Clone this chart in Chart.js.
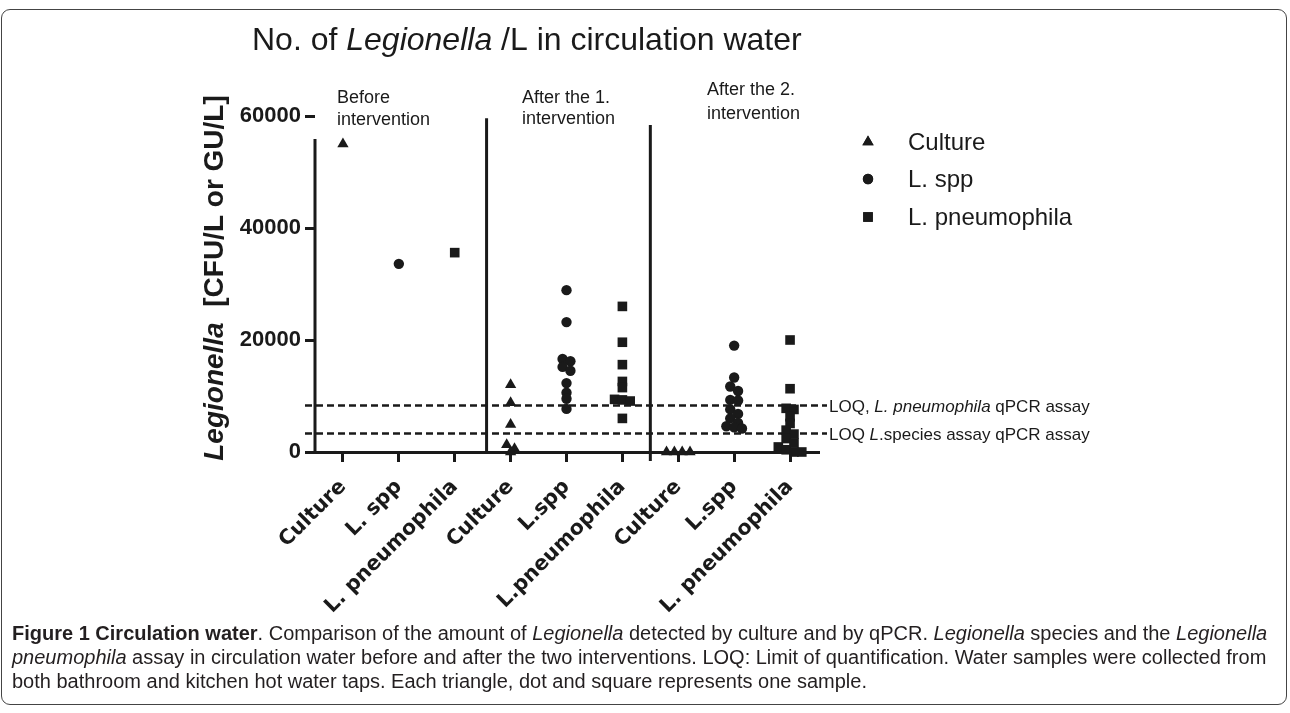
<!DOCTYPE html>
<html>
<head>
<meta charset="utf-8">
<script src="https://cdn.jsdelivr.net/npm/chart.js@4.4.1/dist/chart.umd.min.js"></script>
<style>
  html, body { margin: 0; padding: 0; background: #fff; }
  body { width: 1290px; height: 713px; position: relative; overflow: hidden; }
  #frame { position: absolute; left: 1px; top: 9px; width: 1284px; height: 694px; border: 1.5px solid #444; border-radius: 9px; }
  canvas { position: absolute; left: 0; top: 0; }
  .caption { position: absolute; left: 12px; top: 621px; font-family: "Liberation Sans", sans-serif; font-size: 20px; line-height: 24px; color: #231f20; white-space: nowrap; }
</style>
</head>
<body>
<div id="frame"></div>
<canvas id="chart" width="1290" height="713"></canvas>
<div class="caption">
  <div><b>Figure 1 Circulation water</b>. Comparison of the amount of <i>Legionella</i> detected by culture and by qPCR. <i>Legionella</i> species and the <i>Legionella</i></div>
  <div><i>pneumophila</i> assay in circulation water before and after the two interventions. LOQ: Limit of quantification. Water samples were collected from</div>
  <div>both bathroom and kitchen hot water taps. Each triangle, dot and square represents one sample.</div>
</div>
<script>
// x categories (one column per assay and period)
const categories = ["Culture", "L. spp", "L. pneumophila", "Culture", "L.spp", "L.pneumophila", "Culture", "L.spp", "L. pneumophila"];
const phaseLabels = [["Before", "intervention"], ["After the 1.", "intervention"], ["After the 2.", "intervention"]];
const seriesNames = ["Culture", "L. spp", "L. pneumophila"];
const yTicks = [0, 20000, 40000, 60000];

// values (CFU/L or GU/L)
const cultureBefore = [55000];
const lsppBefore = [33600];
const lpnBefore = [35600];
const cultureAfter1 = [12000, 8800, 4900, 1300, 600, 0];
const lsppAfter1 = [28900, 23200, 16600, 16200, 15200, 14500, 12300, 10600, 9500, 7700];
const lpnAfter1 = [26000, 19600, 15600, 12600, 11500, 9400, 9300, 9100, 6000];
const cultureAfter2 = [0, 0, 0, 0];
const lsppAfter2 = [19000, 13300, 11700, 10900, 9300, 9200, 7600, 6800, 6000, 5200, 4600, 4400, 4200];
const lpnAfter2 = [20000, 11300, 7800, 7600, 6300, 5100, 3900, 3200, 2400, 1600, 900, 400, 0, 0];

// limits of quantification
const loqValues = [8300, 3300];
const loqLabels = [
  [["LOQ, ", false], ["L. pneumophila", true], [" qPCR assay", false]],
  [["LOQ ", false], ["L", true], [".species assay qPCR assay", false]]
];

const INK = "#1a1a1a";
const ROW_GAP = 1000;   // values closer than this share a row
const STEP = 0.14;      // horizontal spread within a row (category units)

// simple dot-plot spreading, like Prism does for overlapping points
function swarm(values, cat) {
  const sorted = [...values].sort((a, b) => b - a);
  const rows = [];
  sorted.forEach(v => {
    const row = rows[rows.length - 1];
    if (row && row[0] - v < ROW_GAP) row.push(v);
    else rows.push([v]);
  });
  return rows.flatMap(row => row.map((v, i) => ({ x: cat + (i - (row.length - 1) / 2) * STEP, y: v })));
}

const cultureData = [...swarm(cultureBefore, 0), ...swarm(cultureAfter1, 3), ...swarm(cultureAfter2, 6)];
const lsppData = [...swarm(lsppBefore, 1), ...swarm(lsppAfter1, 4), ...swarm(lsppAfter2, 7)];
const lpnData = [...swarm(lpnBefore, 2), ...swarm(lpnAfter1, 5), ...swarm(lpnAfter2, 8)];

function drawRuns(ctx, runs, x, y, align) {
  let total = 0;
  runs.forEach(r => { ctx.font = r.font; r.w = ctx.measureText(r.text).width; total += r.w; });
  let cx = align === "center" ? x - total / 2 : x;
  ctx.textAlign = "left";
  runs.forEach(r => { ctx.font = r.font; ctx.fillText(r.text, cx, y); cx += r.w; });
}

const decor = {
  id: "decor",
  beforeDatasetsDraw(chart) {
    const { ctx, chartArea: a, scales: { x, y } } = chart;
    ctx.save();
    ctx.strokeStyle = INK;

    // LOQ lines
    ctx.lineWidth = 2.5;
    ctx.setLineDash([7, 4]);
    loqValues.forEach(v => {
      const py = y.getPixelForValue(v);
      ctx.beginPath();
      ctx.moveTo(a.left - 10, py);
      ctx.lineTo(a.right + 9, py);
      ctx.stroke();
    });
    ctx.setLineDash([]);

    // y axis (starts a bit under the top tick, like the original)
    ctx.lineWidth = 3;
    ctx.beginPath();
    ctx.moveTo(a.left, y.getPixelForValue(55900));
    ctx.lineTo(a.left, a.bottom + 1.5);
    ctx.stroke();

    // period separators
    [[2.57, 59600, 0], [5.5, 58400, 9]].forEach(([cx, top, below]) => {
      const px = x.getPixelForValue(cx);
      ctx.beginPath();
      ctx.moveTo(px, y.getPixelForValue(top));
      ctx.lineTo(px, a.bottom + below);
      ctx.stroke();
    });
    ctx.restore();
  },
  afterDraw(chart) {
    const { ctx, chartArea: a, scales: { x, y } } = chart;
    ctx.save();
    ctx.fillStyle = INK;
    ctx.textBaseline = "alphabetic";

    // title
    drawRuns(ctx, [
      { text: "No. of ", font: "32px 'Liberation Sans'" },
      { text: "Legionella", font: "italic 32px 'Liberation Sans'" },
      { text: " /L in circulation water", font: "32px 'Liberation Sans'" }
    ], 252, 50, "left");

    // period labels
    const phaseX = [337, 522, 707];
    const phaseY = [[103, 125], [103, 124], [95, 119]];
    ctx.font = "18px 'Liberation Sans'";
    phaseLabels.forEach((lines, i) => {
      lines.forEach((t, j) => ctx.fillText(t, phaseX[i], phaseY[i][j]));
    });

    // y axis title
    ctx.save();
    ctx.translate(223, 278);
    ctx.rotate(-Math.PI / 2);
    drawRuns(ctx, [
      { text: "Legionella", font: "italic bold 28px 'Liberation Sans'" },
      { text: "  [CFU/L or GU/L]", font: "bold 28px 'Liberation Sans'" }
    ], 0, 0, "center");
    ctx.restore();

    // LOQ labels
    ctx.textBaseline = "middle";
    loqLabels.forEach((parts, i) => {
      const py = y.getPixelForValue(loqValues[i]) + 2;
      drawRuns(ctx, parts.map(([t, it]) => ({ text: t, font: (it ? "italic " : "") + "17px 'Liberation Sans'" })), a.right + 11, py, "left");
    });

    // legend
    const legendY = [142, 179, 217];
    chart.data.datasets.forEach((ds, i) => {
      Chart.helpers.drawPoint(ctx, {
        pointStyle: ds.pointStyle, radius: ds.pointRadius, borderWidth: 0, rotation: 0
      }, 868, legendY[i]);
      ctx.fill();
      ctx.font = "24px 'Liberation Sans'";
      ctx.textAlign = "left";
      ctx.fillText(seriesNames[i], 908, legendY[i] + 1);
    });
    ctx.restore();
  }
};

const ds = (label, data, style, r) => ({
  label, data, type: "scatter", showLine: false, clip: false,
  pointStyle: style, pointRadius: r, pointHoverRadius: r,
  backgroundColor: INK, borderColor: INK, pointBorderWidth: 0
});

new Chart(document.getElementById("chart"), {
  type: "scatter",
  data: {
    datasets: [
      ds(seriesNames[0], cultureData, "triangle", 6.5),
      ds(seriesNames[1], lsppData, "circle", 5.2),
      ds(seriesNames[2], lpnData, "rect", 6.8)
    ]
  },
  options: {
    responsive: false,
    animation: false,
    devicePixelRatio: 1,
    layout: { padding: { left: 0, top: 116, right: 472, bottom: 0 } },
    plugins: { legend: { display: false }, tooltip: { enabled: false } },
    scales: {
      x: {
        type: "linear", min: -0.5, max: 8.5,
        afterBuildTicks: s => { s.ticks = categories.map((c, i) => ({ value: i })); },
        afterFit: s => { s.height = 261; },
        ticks: {
          autoSkip: false, minRotation: 45, maxRotation: 45, padding: 13,
          color: INK, font: { family: "DejaVu Sans", weight: "bold", size: 20.5 },
          callback: v => categories[Math.round(v)]
        },
        grid: { drawOnChartArea: false, color: INK, lineWidth: 3, tickLength: 10 },
        border: { display: true, color: INK, width: 3 }
      },
      y: {
        min: 0, max: 60000,
        afterBuildTicks: s => { s.ticks = yTicks.map(v => ({ value: v })); },
        afterFit: s => { s.width = 315; },
        ticks: {
          padding: 4, color: INK,
          font: { family: "Liberation Sans", weight: "bold", size: 22 },
          callback: v => String(v)
        },
        grid: { drawOnChartArea: false, color: INK, lineWidth: 3, tickLength: 10 },
        border: { display: false }
      }
    }
  },
  plugins: [decor]
});
</script>
</body>
</html>
